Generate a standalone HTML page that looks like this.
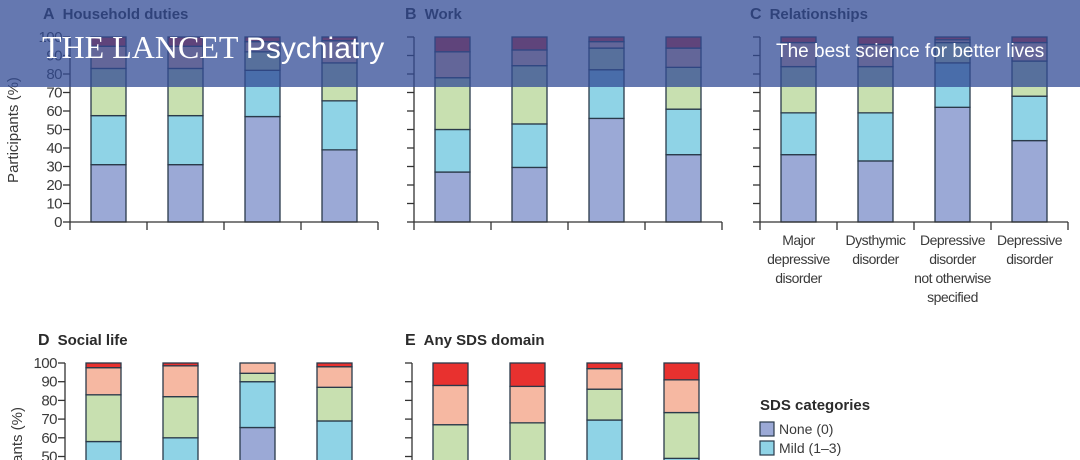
<!DOCTYPE html>
<html><head><meta charset="utf-8"><style>
html,body{margin:0;padding:0;background:#fff;width:1080px;height:460px;overflow:hidden;}
svg{display:block;font-family:"Liberation Sans Narrow","Liberation Sans",sans-serif;}
</style></head><body>
<svg id="c" width="1080" height="460" viewBox="0 0 1080 460"></svg>
<script>
const categories = ["Major depressive disorder","Dysthymic disorder","Depressive disorder not otherwise specified","Depressive disorder"];
const seriesNames = ["None (0)","Mild (1–3)","Moderate (4–6)","Marked (7–9)","Extreme (10)"];
const colors = ["#9ba9d6","#8fd3e6","#c8e0b0","#f6b8a2","#e8312f"];
// cumulative tops per bar (None, Mild, Moderate, Marked, Extreme)
const householdTops = [[31,57.5,83,95,100],[31,57.5,83,95,100],[57,82,92,97.5,100],[39,65.5,86,98,100]];
const workTops = [[27,50,78,92,100],[29.5,53,84.5,93,100],[56,82.3,94,97.5,100],[36.4,61,83.6,94,100]];
const relTops = [[36.4,59,84,97,100],[33,59,84,96,100],[62,86,97,98.5,100],[44,68,87,97,100]];
const socialTops = [[30,58,83,97.5,100],[32,60,82,98.5,100],[65.5,90,94.5,100,100],[40,69,87,98,100]];
const anyTops = [[20,45,67,88,100],[22,46,68,87.5,100],[40,69.5,86,97,100],[25,49,73.5,91,100]];
const yTicks = [0,10,20,30,40,50,60,70,80,90,100];

const svg = document.getElementById('c');
const NS = "http://www.w3.org/2000/svg";
function mk(tag, attrs, parent){const e=document.createElementNS(NS,tag);for(const k in attrs)e.setAttribute(k,attrs[k]);(parent||svg).appendChild(e);return e;}

function panel(name, tops, axisX, y0, y100, showLabels, yTicksList){
  const g = mk('g',{});
  
  
  const yS = v => y0 - (y0 - y100) * v / 100;
  const step = 77;
  const bw = 35;
  tops.forEach((t, i) => {
    const cx = axisX + step * i + step / 2;
    let prev = 0;
    t.forEach((v, s) => {
      if (v - prev <= 0) { prev = v; return; }
      const r = mk('rect',{x:cx-bw/2,y:yS(v),width:bw,height:yS(prev)-yS(v),fill:colors[s],stroke:"#2a3a4a","stroke-width":1.3},g);
      
      
      prev = v;
    });
  });
  const ax = mk('line',{x1:axisX,y1:Math.min(y0,460),x2:axisX,y2:y100,stroke:"#333","stroke-width":1.3},g);
  
  
  yTicksList.forEach(v => {
    const yy = yS(v);
    if (yy > 460) return;
    mk('line',{x1:axisX-7,y1:yy,x2:axisX,y2:yy,stroke:"#333","stroke-width":1.3},g);
    if (showLabels) {
      const t = mk('text',{x:axisX-8,y:yy+5,"text-anchor":"end","font-size":15,fill:"#3a3a3a","letter-spacing":"-0.5"},g);
      t.textContent = v;
      
      
    }
  });
  if (y0 < 460) {
    mk('line',{x1:axisX,y1:y0,x2:axisX+step*4,y2:y0,stroke:"#333","stroke-width":1.3},g);
    for (let i=0;i<=4;i++) mk('line',{x1:axisX+step*i,y1:y0,x2:axisX+step*i,y2:y0+8,stroke:"#333","stroke-width":1.3},g);
  }
}
panel('household', householdTops, 70, 222, 37, true, yTicks);
panel('work', workTops, 414, 222, 37, false, yTicks);
panel('relationships', relTops, 760, 222, 37, false, yTicks);
panel('social', socialTops, 65, 550, 363, true, yTicks);
panel('any-sds', anyTops, 412, 550, 363, false, yTicks);

const labLines = [["Major","depressive","disorder"],["Dysthymic","disorder"],["Depressive","disorder","not otherwise","specified"],["Depressive","disorder"]];
labLines.forEach((ls,i)=>{
  ls.forEach((l,j)=>{
    const t = mk('text',{x:760+77*i+38.5,y:245+j*19,"text-anchor":"middle","font-size":14,fill:"#3a3a3a","letter-spacing":"-0.5"});
    t.textContent = l;
    
    
  });
});

(function(){
let e;
function mt(tag,a,txt){const x=mk(tag,a);if(txt)x.textContent=txt;return x;}
e=mt('text',{x:18,y:130,transform:"rotate(-90 18 130)","text-anchor":"middle","font-size":15,fill:"#3a3a3a"},"Participants (%)");

e=mt('text',{x:22,y:407,transform:"rotate(-90 22 407)","text-anchor":"end","font-size":15,fill:"#3a3a3a"},"Participants (%)");

const titles=[["A","Household duties",43,19],["B","Work",405,19],["C","Relationships",750,19],["D","Social life",38,345],["E","Any SDS domain",405,345]];
titles.forEach(t=>{
 const g=mk('text',{x:t[2],y:t[3],"font-size":15,"font-weight":"bold",fill:"#2b2b2b"});
 g.innerHTML='<tspan font-size="16">'+t[0]+'</tspan><tspan dx="8">'+t[1]+'</tspan>';
 
});
e=mt('text',{x:760,y:410,"font-size":15,"font-weight":"bold",fill:"#2b2b2b"},"SDS categories");

[["None (0)","#9ba9d6",422],["Mild (1–3)","#8fd3e6",441]].forEach(l=>{
 e=mk('rect',{x:760,y:l[2],width:14,height:14,fill:l[1],stroke:"#2a3a4a","stroke-width":1.2});
 
 e=mt('text',{x:779,y:l[2]+12,"font-size":14,fill:"#3a3a3a"},l[0]);
 
});
e=mk('rect',{x:0,y:0,width:1080,height:87,fill:"rgba(50,75,150,0.75)"});

e=mk('text',{x:42,y:58,"font-size":32,fill:"#fff","font-family":"Liberation Serif, serif"});
e.innerHTML='THE LANCET <tspan font-family="Liberation Sans, sans-serif" font-size="30">Psychiatry</tspan>';

e=mt('text',{x:776,y:57,"font-size":19,fill:"#fff"},"The best science for better lives");

})();
</script>
</body></html>
